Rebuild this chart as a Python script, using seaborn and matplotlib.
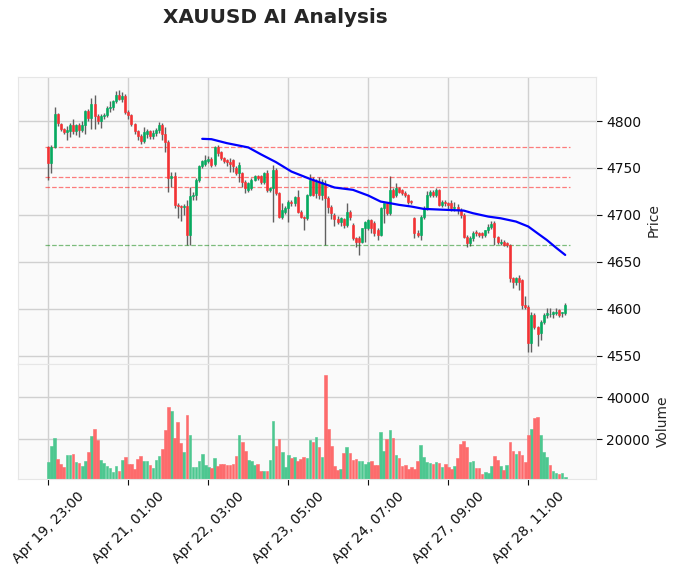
import numpy as np
import pandas as pd
import matplotlib
matplotlib.use("Agg")
import matplotlib.pyplot as plt
from matplotlib.ticker import MultipleLocator
import seaborn as sns

# hourly XAUUSD candles
opens = [4772.5, 4754.8, 4772.5, 4807.4, 4796.7, 4791.4, 4788.2, 4789.6, 4796.0, 4789.0,
         4796.0, 4791.0, 4796.0, 4811.0, 4803.0, 4818.0, 4805.0, 4800.0, 4805.0, 4806.7,
         4814.0, 4814.5, 4821.0, 4828.0, 4824.0, 4827.0, 4810.0, 4807.0, 4797.0, 4789.0,
         4783.6, 4779.0, 4786.5, 4789.0, 4784.0, 4787.0, 4790.0, 4796.0, 4786.0, 4778.0,
         4739.0, 4741.0, 4711.0, 4709.0, 4708.0, 4709.5, 4679.0, 4720.0, 4721.5, 4737.4,
         4751.6, 4754.1, 4757.0, 4760.0, 4754.0, 4771.9, 4766.9, 4760.5, 4758.7, 4756.2,
         4758.7, 4749.8, 4744.4, 4744.4, 4735.5, 4726.6, 4728.4, 4737.3, 4741.6, 4741.6,
         4735.5, 4744.4, 4726.6, 4728.4, 4748.0, 4723.1, 4698.2, 4703.5, 4707.1, 4714.2,
         4712.4, 4719.5, 4703.5, 4697.5, 4696.4, 4721.3, 4737.3, 4723.1, 4735.5, 4721.3,
         4732.0, 4717.8, 4708.9, 4700.0, 4695.4, 4692.9, 4695.4, 4689.3, 4703.5, 4689.3,
         4675.1, 4675.1, 4671.5, 4685.8, 4686.0, 4694.6, 4691.1, 4684.0, 4678.6, 4707.1,
         4712.4, 4701.8, 4726.7, 4721.3, 4728.4, 4726.7, 4723.1, 4721.3, 4714.2, 4696.4,
         4680.4, 4678.6, 4698.2, 4707.1, 4721.3, 4724.9, 4721.3, 4726.7, 4710.7, 4714.2,
         4712.4, 4712.4, 4707.1, 4708.9, 4705.3, 4700.0, 4676.9, 4669.7, 4675.1, 4682.2,
         4680.4, 4680.4, 4678.6, 4683.5, 4687.5, 4691.0, 4676.9, 4669.7, 4671.5, 4670.0,
         4668.0, 4632.4, 4628.9, 4632.4, 4630.6, 4603.9, 4602.2, 4563.0, 4593.3, 4580.8,
         4573.7, 4586.1, 4593.3, 4594.0, 4594.0, 4595.0, 4598.6, 4595.0, 4595.0]
highs = [4773.5, 4774.0, 4814.5, 4809.0, 4798.0, 4793.0, 4795.0, 4798.0, 4802.0, 4797.0,
         4798.0, 4800.0, 4812.0, 4813.0, 4825.0, 4828.0, 4808.0, 4808.0, 4809.0, 4816.0,
         4821.0, 4823.0, 4832.0, 4833.0, 4831.0, 4829.0, 4812.0, 4808.0, 4798.0, 4791.0,
         4786.0, 4794.0, 4792.0, 4791.0, 4790.0, 4793.0, 4799.0, 4798.0, 4794.0, 4780.0,
         4746.0, 4746.0, 4713.0, 4711.0, 4712.0, 4716.0, 4730.0, 4724.0, 4739.0, 4753.0,
         4758.0, 4764.0, 4763.0, 4762.0, 4773.0, 4774.0, 4768.0, 4762.0, 4760.0, 4761.0,
         4760.0, 4752.0, 4756.0, 4746.0, 4737.0, 4735.0, 4739.0, 4743.0, 4743.0, 4743.0,
         4746.0, 4748.0, 4730.0, 4753.3, 4750.0, 4724.0, 4712.4, 4709.0, 4716.0, 4716.0,
         4720.0, 4726.6, 4705.0, 4699.0, 4722.0, 4744.0, 4740.0, 4738.0, 4740.0, 4738.0,
         4737.0, 4720.0, 4711.0, 4702.0, 4699.0, 4698.0, 4697.0, 4712.4, 4705.0, 4691.0,
         4676.0, 4677.0, 4686.0, 4694.0, 4696.0, 4696.0, 4693.0, 4686.0, 4708.0, 4713.0,
         4714.0, 4741.0, 4729.0, 4733.8, 4730.0, 4728.0, 4725.0, 4722.0, 4716.0, 4698.0,
         4684.0, 4700.0, 4709.0, 4725.0, 4727.0, 4727.0, 4728.4, 4728.0, 4716.0, 4716.0,
         4714.0, 4716.0, 4714.0, 4712.0, 4707.0, 4702.0, 4679.0, 4677.0, 4683.0, 4684.0,
         4682.0, 4682.0, 4684.0, 4690.0, 4693.0, 4693.0, 4678.0, 4674.0, 4673.0, 4671.0,
         4669.0, 4634.0, 4634.0, 4636.0, 4632.0, 4613.0, 4604.0, 4596.0, 4595.0, 4582.0,
         4588.0, 4595.0, 4600.4, 4600.4, 4598.0, 4600.4, 4600.0, 4597.0, 4606.0]
lows = [4737.3, 4744.4, 4771.0, 4795.0, 4789.0, 4786.0, 4780.0, 4783.0, 4786.0, 4785.0,
        4783.0, 4788.0, 4786.0, 4800.0, 4792.0, 4792.0, 4797.0, 4793.0, 4802.0, 4804.0,
        4810.0, 4812.0, 4819.0, 4822.0, 4820.0, 4808.0, 4802.0, 4795.0, 4786.0, 4780.0,
        4776.0, 4777.0, 4782.0, 4781.0, 4781.0, 4784.0, 4787.0, 4780.0, 4767.0, 4724.0,
        4730.0, 4707.0, 4697.0, 4693.0, 4700.0, 4668.0, 4668.0, 4716.0, 4716.0, 4735.0,
        4750.0, 4752.0, 4755.0, 4751.0, 4752.0, 4763.0, 4759.0, 4755.0, 4752.0, 4746.2,
        4746.0, 4742.0, 4735.5, 4730.0, 4723.0, 4724.0, 4727.0, 4736.0, 4737.0, 4733.0,
        4733.0, 4724.9, 4724.0, 4692.9, 4721.0, 4697.0, 4696.0, 4701.0, 4692.9, 4710.0,
        4710.0, 4702.0, 4697.0, 4684.0, 4695.0, 4720.0, 4720.0, 4718.0, 4717.0, 4716.0,
        4668.0, 4702.0, 4696.0, 4688.0, 4690.0, 4688.0, 4685.8, 4687.0, 4695.0, 4673.3,
        4666.2, 4657.3, 4670.0, 4671.5, 4684.0, 4680.4, 4678.0, 4673.3, 4677.0, 4691.0,
        4700.0, 4700.0, 4718.0, 4719.0, 4723.0, 4721.0, 4719.0, 4712.0, 4712.0, 4675.1,
        4676.0, 4673.3, 4696.0, 4705.0, 4719.0, 4719.0, 4719.0, 4709.0, 4708.0, 4709.0,
        4706.0, 4704.0, 4704.0, 4701.0, 4697.0, 4675.0, 4666.2, 4667.0, 4672.0, 4677.0,
        4676.0, 4675.0, 4676.0, 4681.0, 4685.0, 4668.0, 4669.0, 4668.0, 4667.0, 4666.0,
        4628.0, 4622.0, 4625.0, 4620.0, 4600.0, 4600.0, 4554.1, 4554.1, 4578.0, 4560.0,
        4566.6, 4584.0, 4590.0, 4591.5, 4590.0, 4593.0, 4591.0, 4591.0, 4593.0]
closes = [4754.8, 4772.5, 4807.4, 4797.8, 4791.4, 4788.2, 4790.0, 4796.0, 4789.0, 4796.0,
          4791.0, 4796.0, 4811.0, 4803.0, 4818.0, 4805.0, 4800.0, 4805.0, 4806.7, 4814.0,
          4814.5, 4821.0, 4828.0, 4824.0, 4827.0, 4810.0, 4807.0, 4797.0, 4789.0, 4783.6,
          4779.0, 4788.0, 4789.0, 4784.0, 4787.0, 4790.0, 4796.0, 4786.0, 4778.0, 4739.0,
          4741.0, 4711.0, 4709.0, 4708.0, 4709.5, 4679.0, 4720.0, 4721.5, 4737.4, 4751.6,
          4757.6, 4758.7, 4760.0, 4753.4, 4771.9, 4765.8, 4760.5, 4757.6, 4756.2, 4754.0,
          4751.6, 4744.4, 4753.3, 4735.5, 4728.4, 4733.8, 4737.3, 4741.6, 4739.1, 4735.5,
          4744.4, 4726.6, 4728.4, 4748.0, 4723.1, 4698.2, 4705.3, 4707.1, 4714.2, 4712.4,
          4719.5, 4703.5, 4698.2, 4696.4, 4721.3, 4737.3, 4721.3, 4735.5, 4721.3, 4735.5,
          4717.8, 4708.9, 4701.7, 4695.4, 4692.9, 4696.4, 4689.3, 4703.5, 4698.2, 4675.1,
          4671.5, 4671.5, 4685.8, 4692.9, 4694.6, 4685.8, 4680.4, 4678.6, 4707.1, 4712.4,
          4701.8, 4726.7, 4719.5, 4728.4, 4724.9, 4723.1, 4721.3, 4714.2, 4714.0, 4680.4,
          4678.6, 4698.2, 4707.1, 4721.3, 4724.9, 4721.3, 4726.7, 4710.7, 4714.2, 4712.4,
          4710.7, 4707.1, 4708.9, 4705.3, 4700.0, 4676.9, 4669.7, 4675.1, 4681.0, 4680.4,
          4679.0, 4678.6, 4683.5, 4687.5, 4690.5, 4676.9, 4671.5, 4671.5, 4668.0, 4668.0,
          4632.4, 4628.9, 4632.4, 4628.9, 4603.9, 4602.2, 4563.0, 4593.3, 4580.8, 4572.6,
          4586.1, 4593.3, 4595.0, 4594.3, 4596.1, 4596.5, 4593.3, 4596.1, 4604.0]
volumes = [9360, 16817, 20626, 10627, 8248, 6820, 12533, 12533, 13010, 9200,
           8724, 7296, 9677, 13962, 21578, 24910, 19674, 10153, 8724, 7296,
           6344, 4440, 7296, 4916, 10153, 11581, 8248, 8248, 5866, 10627,
           12057, 9677, 9677, 7772, 6344, 10153, 12000, 15389, 24435, 35385,
           33481, 20626, 28244, 18245, 14000, 31576, 22055, 6820, 6820, 9677,
           13010, 7772, 6820, 6344, 11104, 7296, 8248, 8248, 7772, 7772,
           8248, 12057, 22055, 18722, 14437, 10153, 9677, 7772, 8248, 4916,
           4916, 4916, 10153, 28720, 16817, 20150, 13962, 6820, 12533, 11104,
           11581, 9677, 10627, 11581, 11104, 19674, 18722, 21101, 16341, 11580,
           50620, 24910, 16817, 7296, 5391, 5867, 13485, 16341, 13485, 10150,
           10627, 9677, 9677, 8248, 9200, 9677, 7772, 8000, 23483, 14437,
           20150, 24435, 20626, 12533, 11104, 7296, 7772, 5866, 6820, 5866,
           9677, 17294, 11580, 9000, 8565, 8088, 9200, 8565, 7000, 8248,
           6978, 5866, 7296, 11104, 17770, 19198, 16341, 9200, 9677, 6344,
           6344, 3487, 4440, 3963, 7296, 12057, 10150, 7296, 5391, 8000,
           18722, 14596, 13010, 14437, 12533, 9200, 22055, 24910, 30148, 30624,
           22055, 13962, 11580, 7772, 4916, 3800, 3487, 4100, 2218]

# moving average as drawn on the chart (candle index, price)
ma_x = [50, 53, 58, 65, 69, 74, 79, 85, 89, 93, 99, 104, 108, 111, 114, 118,
        122, 127, 135, 138, 143, 147, 152, 156, 159, 162, 165, 168]
ma_y = [4781.1, 4780.7, 4776.5, 4771.9, 4764.7, 4756.2, 4746.2, 4738.4, 4733.8,
        4729.2, 4726.7, 4720.6, 4714.2, 4712.5, 4710.7, 4708.9, 4706.4, 4705.7,
        4704.6, 4701.8, 4698.2, 4696.4, 4692.9, 4687.6, 4680.4, 4673.3, 4665.1,
        4657.3]

resistance = [4772.6, 4740.2, 4729.6]
support = [4667.7]

# timestamps: Sunday open to Friday close, then the new week
dates = list(pd.date_range("2026-04-19 23:00", periods=119, freq="h")) + \
        list(pd.date_range("2026-04-26 22:00", periods=50, freq="h"))

df = pd.DataFrame({"open": opens, "high": highs, "low": lows,
                   "close": closes, "volume": volumes})
df["x"] = np.arange(len(df))
df["dir"] = np.where(df["close"] >= df["open"], "up", "down")
# yahoo style colours volume by change against the previous close
df["vdir"] = np.where(df["close"].diff().fillna(0) >= 0, "up", "down")

sns.set_style("whitegrid", {"axes.facecolor": "#fafafa", "grid.color": "#d0d0d0",
                            "axes.edgecolor": "#e6e6e6", "xtick.bottom": True,
                            "ytick.right": True})

fig = plt.figure(figsize=(6.78, 5.76), dpi=100)
ax = fig.add_axes([0.0265, 0.368, 0.8525, 0.4983])
axv = fig.add_axes([0.0265, 0.1684, 0.8525, 0.1997], sharex=ax)

# candles
cols = {"up": "#00b060", "down": "#fe3032"}
ax.vlines(df["x"], df["low"], df["high"], color="#606060", lw=1.0, zorder=2)
body = (df["close"] - df["open"]).abs().clip(lower=0.4)
ax.bar(df["x"], body, bottom=df[["open", "close"]].min(axis=1), width=0.65,
       color=[cols[d] for d in df["dir"]], edgecolor=[cols[d] for d in df["dir"]],
       lw=0.5, alpha=0.9, zorder=3)

sns.lineplot(x=ma_x, y=ma_y, color="blue", lw=1.6, ax=ax, zorder=4)
ax.hlines(resistance, -1.2, 169.4, colors="red", linestyles="--", lw=0.9, alpha=0.5)
ax.hlines(support, -1.2, 169.4, colors="green", linestyles="--", lw=0.9, alpha=0.5)

# volume
sns.barplot(data=df, x="x", y="volume", hue="vdir", native_scale=True, dodge=False,
            palette={"up": "#4dc790", "down": "#fd6b6c"}, saturation=1, width=0.85,
            errorbar=None, legend=False, ax=axv)
for p in axv.patches:
    p.set_edgecolor(p.get_facecolor())
    p.set_linewidth(0.4)

ax.set_xlim(-9.9, 178)
ax.set_ylim(4541, 4847)
axv.set_ylim(1100, 55860)

for a in (ax, axv):
    a.yaxis.tick_right()
    a.yaxis.set_label_position("right")
    a.tick_params(axis="y", length=4, color="#101010", labelsize=10, labelcolor="#101010")
    a.grid(True, color="#d0d0d0", lw=1.0)
    a.set_axisbelow(True)

ax.yaxis.set_major_locator(MultipleLocator(50))
axv.yaxis.set_major_locator(MultipleLocator(20000))
ax.tick_params(axis="x", labelbottom=False, length=0)
ax.set_ylabel("Price", fontsize=10)
axv.set_ylabel("Volume", fontsize=10)
axv.set_xlabel("")

tick_pos = list(range(0, len(df), 26))
axv.set_xticks(tick_pos)
axv.set_xticklabels([dates[i].strftime("%b %d, %H:%M") for i in tick_pos],
                    rotation=45, ha="center", fontsize=10, color="#101010")
axv.tick_params(axis="x", length=4, color="#101010")

fig.text(0.4056, 0.969, "XAUUSD AI Analysis", ha="center", va="center",
         fontsize=14.4, fontweight="bold")

fig.savefig("out.png", dpi=100)
